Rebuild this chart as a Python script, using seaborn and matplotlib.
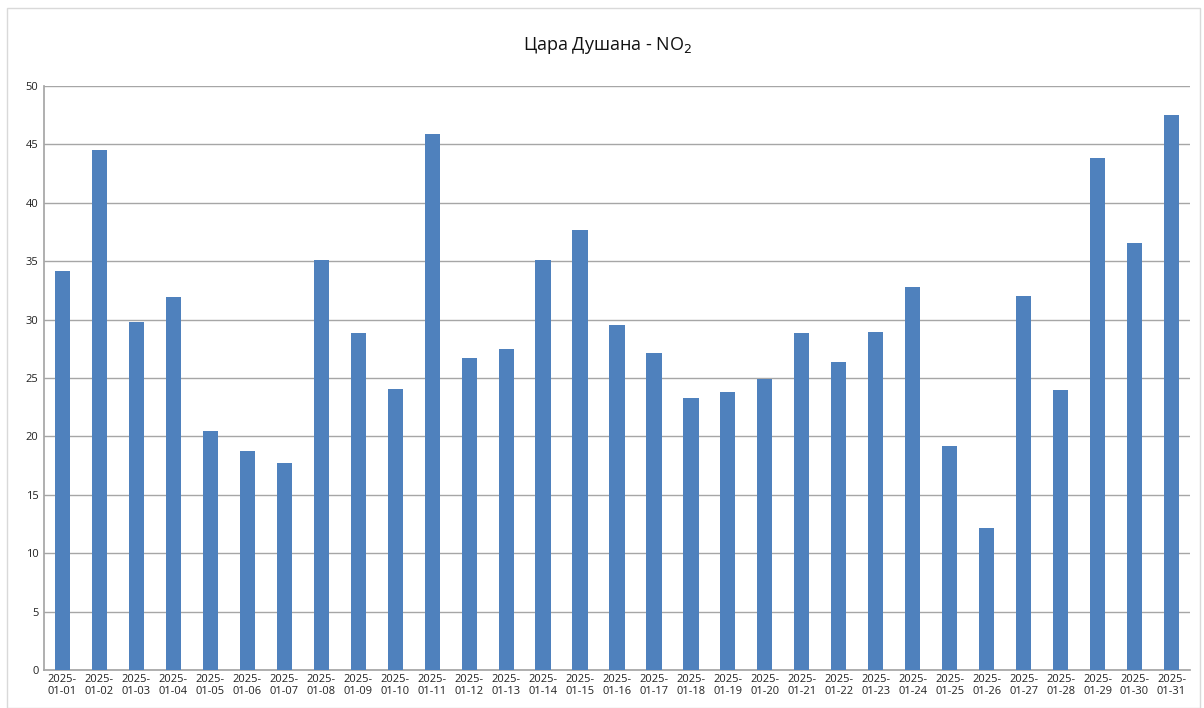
import matplotlib
matplotlib.use("Agg")
import matplotlib.pyplot as plt
import seaborn as sns
import pandas as pd
from matplotlib.patches import Rectangle

dates = [f"2025-01-{d:02d}" for d in range(1, 32)]
values = [34.2, 44.5, 29.8, 31.9, 20.5, 18.75, 17.7, 35.1, 28.85, 24.1,
          45.9, 26.7, 27.5, 35.1, 37.7, 29.5, 27.1, 23.3, 23.8, 24.9,
          28.85, 26.4, 28.9, 32.8, 19.2, 12.2, 32.0, 24.0, 43.8, 36.6, 47.5]
tick_labels = [d[:5] + "\n" + d[5:] for d in dates]

sns.set_theme(style="white")
plt.rcParams['font.family'] = ['Open Sans', 'DejaVu Sans']

df = pd.DataFrame({"date": dates, "value": values})

fig = plt.figure(figsize=(12.04, 7.08), dpi=100)
fig.patches.append(Rectangle((7/1204, 0), 1193/1204, 700/708, transform=fig.transFigure,
                             fill=False, edgecolor="#d9d9d9", linewidth=1))
ax = fig.add_axes([44/1204, 38/708, 1146/1204, 584/708])
sns.barplot(data=df, x="date", y="value", color="#4F81BD", width=0.41,
            saturation=1, ax=ax, zorder=3, linewidth=0, edgecolor="none")
ax.set_xlim(-0.5, len(dates) - 0.5)
ax.set_ylim(0, 50)
ax.set_yticks(range(0, 51, 5))
ax.set_yticklabels([str(v) for v in range(0, 51, 5)], fontsize=8)
ax.set_xticks(range(len(dates)))
ax.set_xticklabels(tick_labels, fontsize=8, linespacing=1.1)
ax.yaxis.grid(True, color="#a6a6a6", linewidth=1)
ax.set_axisbelow(True)
ax.set_xlabel("")
ax.set_ylabel("")
for s in ["top", "right"]:
    ax.spines[s].set_visible(False)
ax.spines["left"].set_color("#a6a6a6")
ax.spines["bottom"].set_color("#a6a6a6")
ax.tick_params(axis="x", length=0, pad=3, colors="#222222")
ax.tick_params(axis="y", length=0, pad=4, colors="#222222")
fig.text(608/1204, 1 - 45/708, "Цара Душана - NO$_2$", ha="center", va="center",
         fontsize=13, color="#111111")
fig.savefig("out.png", dpi=100)
